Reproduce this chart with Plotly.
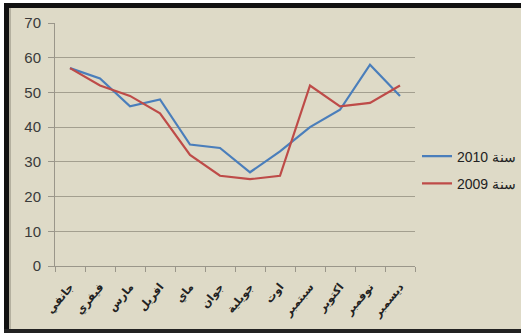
import plotly.graph_objects as go

months = ["جانفي", "فيفري", "مارس", "افريل", "ماي", "جوان",
          "جويلية", "اوت", "سبتمبر", "اكتوبر", "نوفمبر", "ديسمبر"]
values_2010 = [57, 54, 46, 48, 35, 34, 27, 33, 40, 45, 58, 49]
values_2009 = [57, 52, 49, 44, 32, 26, 25, 26, 52, 46, 47, 52]
series_names = ["سنة 2010", "سنة 2009"]
y_ticks = [0, 10, 20, 30, 40, 50, 60, 70]

W, H = 521, 333
L, R, T, B = 55, 106, 23, 67
pw, ph = W - L - R, H - T - B

def px(x):
    return (x - L) / pw

def py(y):
    return (H - B - y) / ph

bg = "#dedac7"
fig = go.Figure()
fig.add_trace(go.Scatter(x=months, y=values_2010, mode="lines", name=series_names[0],
                         legendgroup="a", line=dict(color="#4a7ebb", width=2.2)))
fig.add_trace(go.Scatter(x=months, y=values_2009, mode="lines", name=series_names[1],
                         legendgroup="b", line=dict(color="#be4b48", width=2.2)))

shapes = [
    dict(type="rect", xref="paper", yref="paper", x0=px(0), x1=px(5), y0=py(H), y1=py(0),
         fillcolor="white", line_width=0, layer="below"),
    dict(type="rect", xref="paper", yref="paper", x0=px(0), x1=px(W), y0=py(3), y1=py(0),
         fillcolor="white", line_width=0, layer="below"),
    dict(type="rect", xref="paper", yref="paper", x0=px(4), x1=px(9), y0=py(H), y1=py(3),
         fillcolor="#111111", line_width=0, layer="below"),
    dict(type="rect", xref="paper", yref="paper", x0=px(4), x1=px(W), y0=py(8), y1=py(3),
         fillcolor="#111111", line_width=0, layer="below"),
    dict(type="rect", xref="paper", yref="paper", x0=px(4), x1=px(W), y0=py(H), y1=py(329),
         fillcolor="#222222", line_width=0, layer="below"),
    dict(type="line", xref="paper", yref="paper", x0=px(10), x1=px(10), y0=py(329), y1=py(8),
         line=dict(color="#8a8678", width=1), layer="below"),
]

fig.update_layout(
    width=W, height=H,
    margin=dict(l=L, r=R, t=T, b=B, autoexpand=False),
    paper_bgcolor=bg, plot_bgcolor=bg,
    font=dict(family="Liberation Sans, Arial, sans-serif", color="#3a3a3a"),
    showlegend=True,
    legend=dict(x=px(417), y=py(170), xanchor="left", yanchor="middle",
                bgcolor="rgba(0,0,0,0)", font=dict(size=14, color="#222222"),
                traceorder="grouped", tracegroupgap=6, itemwidth=30),
    shapes=shapes,
    xaxis=dict(showgrid=False, showline=True, linecolor="#9a968a", linewidth=1,
               ticks="outside", ticklen=5, tickcolor="#9a968a", tickson="boundaries",
               tickangle=-50, automargin=False, ticklabelstandoff=9,
               tickfont=dict(size=11, color="#222222", family="DejaVu Sans, sans-serif",
                             weight="bold"),
               range=[-0.5, 11.5], fixedrange=True),
    yaxis=dict(range=[0, 70], tickvals=y_ticks, showgrid=True, gridcolor="#a39f8f",
               gridwidth=1.2, zeroline=False, showline=True, linecolor="#9a968a",
               ticks="outside", ticklen=6, tickcolor="#9a968a", automargin=False,
               ticklabelstandoff=4,
               tickfont=dict(size=15, color="#3a3a3a"), fixedrange=True),
)

fig.write_html("out.html", config={"displayModeBar": False},
               post_script="document.body.style.margin='0';document.body.style.padding='0';")
